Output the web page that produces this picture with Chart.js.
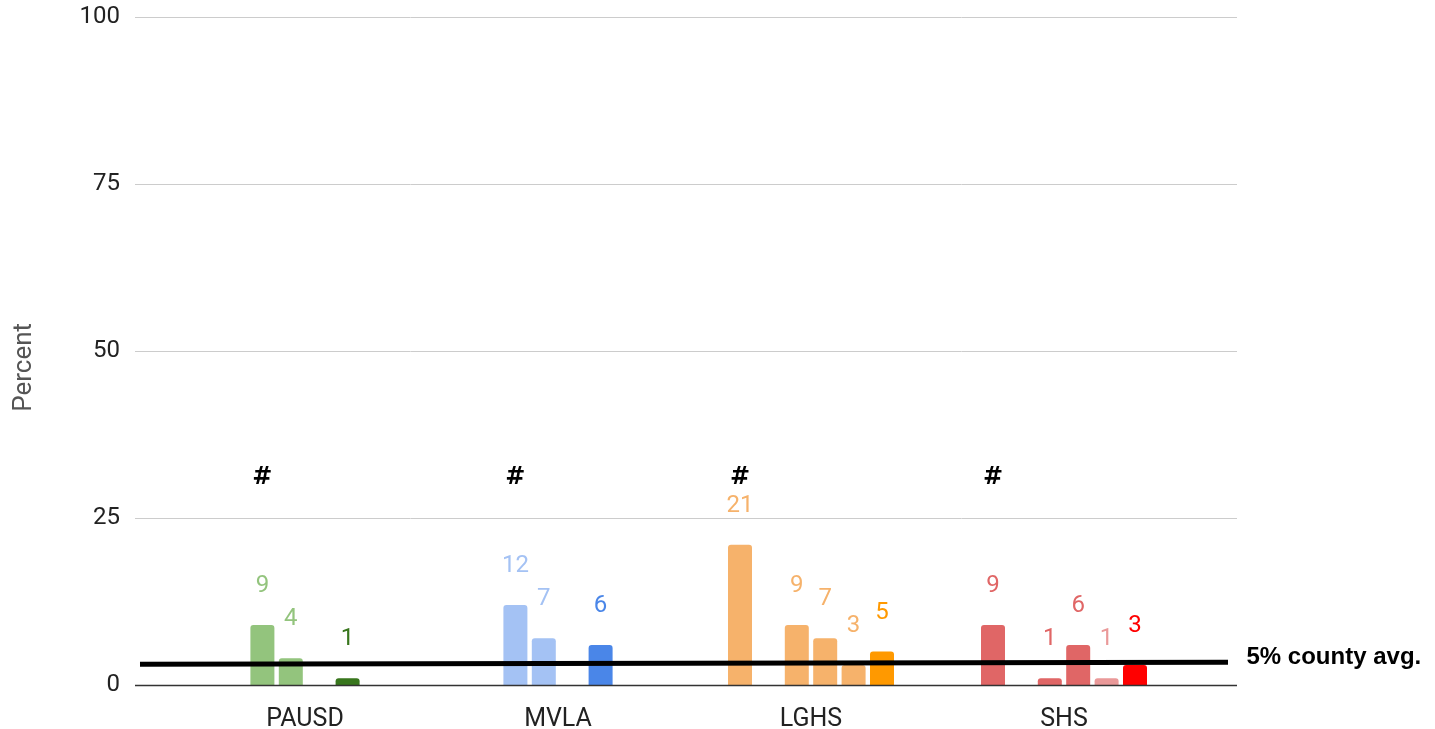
<!DOCTYPE html>
<html>
<head>
<meta charset="utf-8">
<script src="https://cdn.jsdelivr.net/npm/chart.js@4.4.1/dist/chart.umd.min.js"></script>
<style>
  html, body { margin: 0; padding: 0; background: #fff; }
</style>
</head>
<body>
<canvas id="schoolChart" width="1435" height="729"></canvas>
<script>
const schools = ['PAUSD', 'MVLA', 'LGHS', 'SHS'];
const yTicks = [0, 25, 50, 75, 100];

// six bar slots per school, null = no bar in that slot
const slotA = [null, null, 21, 9];
const slotB = [9, 12, null, null];
const slotC = [4, 7, 9, 1];
const slotD = [null, null, 7, 6];
const slotE = [1, 6, 3, 1];
const slotF = [null, null, 5, 3];

// height of the "#" marks above each school
const hashLevel = [31, 31, 31, 31];
// county average reference line (left end, right end)
const countyAvg = [3.1, 3.4];
const countyText = '5% county avg.';

const colorsA = ['#93c47d', '#a4c2f4', '#f6b26b', '#e06666'];
const colorsB = ['#93c47d', '#a4c2f4', '#f6b26b', '#e06666'];
const colorsC = ['#93c47d', '#a4c2f4', '#f6b26b', '#e06666'];
const colorsD = ['#93c47d', '#a4c2f4', '#f6b26b', '#e06666'];
const colorsE = ['#38761d', '#4a86e8', '#f6b26b', '#ea9999'];
const colorsF = ['#38761d', '#4a86e8', '#ff9900', '#ff0000'];

const slots = [slotA, slotB, slotC, slotD, slotE, slotF];
const slotColors = [colorsA, colorsB, colorsC, colorsD, colorsE, colorsF];

const decorations = {
    id: 'decorations',
    beforeDatasetsDraw(chart) {
        const { ctx, chartArea, scales: { y } } = chart;
        ctx.save();
        yTicks.forEach(v => {
            if (v === 0) return;
            const py = Math.round(y.getPixelForValue(v)) + 0.5;
            ctx.strokeStyle = '#cccccc';
            ctx.lineWidth = 1;
            ctx.beginPath();
            ctx.moveTo(chartArea.left - 43.5, py);
            ctx.lineTo(chartArea.right + 46.5, py);
            ctx.stroke();
        });
        ctx.restore();
    },
    afterDatasetsDraw(chart) {
        const { ctx, chartArea, scales: { y } } = chart;
        ctx.save();

        // baseline
        const py0 = Math.round(y.getPixelForValue(0)) + 0.5;
        ctx.strokeStyle = '#333333';
        ctx.lineWidth = 1.5;
        ctx.beginPath();
        ctx.moveTo(chartArea.left - 43.5, py0);
        ctx.lineTo(chartArea.right + 46.5, py0);
        ctx.stroke();

        // value labels above bars
        ctx.font = '24px Roboto';
        ctx.textAlign = 'center';
        ctx.textBaseline = 'middle';
        chart.data.datasets.forEach((ds, di) => {
            const meta = chart.getDatasetMeta(di);
            meta.data.forEach((bar, i) => {
                if (ds.data[i] == null) return;
                ctx.fillStyle = ds.backgroundColor[i];
                ctx.fillText(String(ds.data[i]), bar.x, bar.y - 39);
            });
        });

        // "#" over the first bar of each school
        ctx.font = 'bold 24px "DejaVu Sans", sans-serif';
        ctx.fillStyle = '#000';
        schools.forEach((s, i) => {
            for (let di = 0; di < chart.data.datasets.length; di++) {
                if (chart.data.datasets[di].data[i] != null) {
                    const bar = chart.getDatasetMeta(di).data[i];
                    ctx.fillText('#', bar.x, y.getPixelForValue(hashLevel[i]));
                    break;
                }
            }
        });

        // county average line
        const x0 = chartArea.left - 38.5;
        const x1 = chartArea.right + 37.5;
        ctx.strokeStyle = '#000';
        ctx.lineWidth = 5;
        ctx.beginPath();
        ctx.moveTo(x0, y.getPixelForValue(countyAvg[0]));
        ctx.lineTo(x1, y.getPixelForValue(countyAvg[1]));
        ctx.stroke();

        ctx.font = 'bold 24px "Liberation Sans", Arial, sans-serif';
        ctx.textAlign = 'left';
        ctx.fillText(countyText, chartArea.right + 56, y.getPixelForValue(countyAvg[1]) - 5);
        ctx.restore();
    }
};

const ctx = document.getElementById('schoolChart').getContext('2d');

const schoolChart = new Chart(ctx, {
    type: 'bar',
    data: {
        labels: schools,
        datasets: slots.map((values, k) => ({
            label: 'slot ' + (k + 1),
            data: values,
            backgroundColor: slotColors[k],
            borderRadius: { topLeft: 3, topRight: 3, bottomLeft: 0, bottomRight: 0 },
            borderSkipped: 'start',
            categoryPercentage: 0.6735,
            barPercentage: 0.845
        }))
    },
    options: {
        responsive: false,
        animation: false,
        devicePixelRatio: 1,
        layout: {
            padding: { top: 17, right: 244.5, bottom: 0, left: 0 }
        },
        plugins: {
            legend: { display: false },
            tooltip: { enabled: false }
        },
        scales: {
            x: {
                offset: true,
                grid: { display: false, drawTicks: false },
                border: { display: false },
                ticks: {
                    padding: 20,
                    color: '#222',
                    maxRotation: 0,
                    font: { family: 'Roboto', size: 25 }
                },
                afterFit(scale) { scale.height = 44; }
            },
            y: {
                min: 0,
                max: 100,
                // tick marks hidden; their length only pushes the labels left
                grid: { display: false, drawTicks: true, tickLength: 55.5 },
                border: { display: false },
                ticks: {
                    stepSize: 25,
                    padding: 3,
                    color: '#222',
                    font: { family: 'Roboto', size: 24 }
                },
                title: {
                    display: true,
                    // trailing spaces nudge the rotated title down a little
                    text: 'Percent     ',
                    color: '#555',
                    font: { family: 'Roboto', size: 26 },
                    padding: { top: 9, bottom: 0 }
                },
                afterFit(scale) { scale.width = 178.5; }
            }
        }
    },
    plugins: [decorations]
});
</script>
</body>
</html>
